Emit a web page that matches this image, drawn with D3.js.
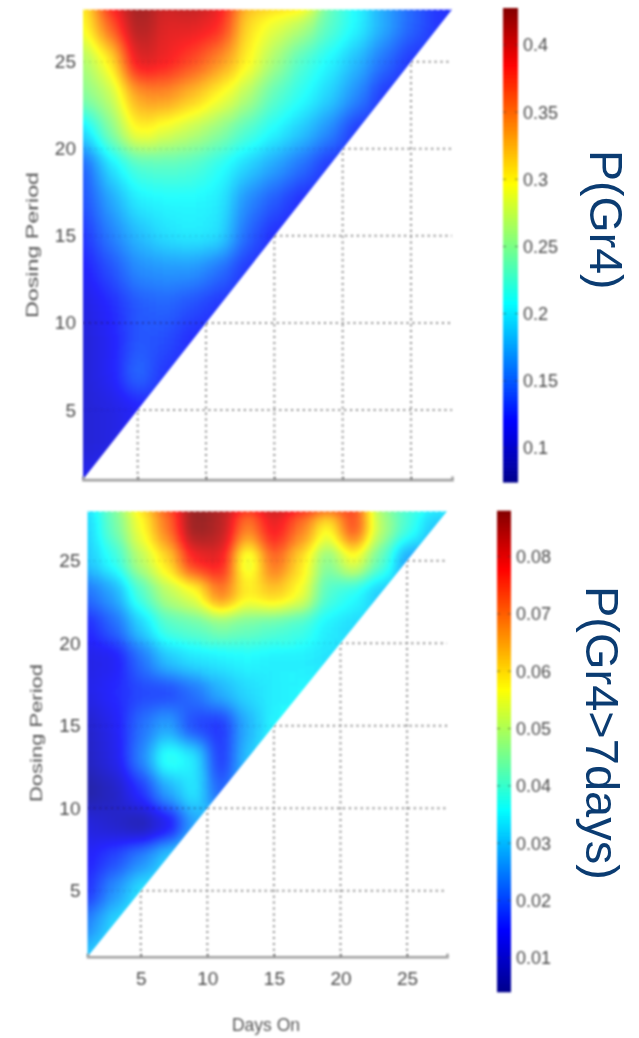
<!DOCTYPE html>
<html><head><meta charset="utf-8">
<script src="https://cdn.jsdelivr.net/npm/d3@7"></script>
<style>html,body{margin:0;padding:0;background:#fff}svg{display:block}text{font-family:"Liberation Sans",Arial,sans-serif}</style>
</head><body><svg id="c" width="639" height="1038"></svg>
<script>
const gridDays = [1,3,5,7,9,11,13,15,17,19,21,23,25,27,29];
const gridPeriods = [29,27,25,23,21,19,17,15,13,11,9,7,5,3,1];
const dayTicks = [5,10,15,20,25];
const periodTicks = [5,10,15,20,25];
const gr4Values = [
 [.30,.40,.44,.41,.42,.40,.33,.33,.335,.24,.205,.17,.145,.125,.12],
 [.29,.36,.42,.395,.395,.385,.31,.285,.265,.23,.205,.175,.145,.125],
 [.26,.30,.40,.39,.37,.34,.30,.26,.225,.205,.18,.15,.125],
 [.245,.27,.335,.34,.32,.295,.265,.23,.21,.19,.16,.125,.12],
 [.19,.245,.30,.285,.27,.25,.225,.205,.185,.16,.125,.12],
 [.14,.195,.225,.23,.225,.21,.19,.17,.15,.125,.12],
 [.135,.17,.20,.205,.205,.20,.16,.14,.12,.12],
 [.125,.155,.18,.195,.20,.195,.145,.12,.12],
 [.115,.135,.16,.165,.165,.15,.125,.12],
 [.105,.12,.14,.145,.135,.125,.12],
 [.10,.115,.14,.135,.12,.12],
 [.10,.115,.15,.125,.12],
 [.10,.105,.115,.12],
 [.10,.105,.12,.12],
 [.11,.12,.12]
];
const gr4Long = [
 [.033,.045,.06,.074,.088,.085,.08,.085,.082,.08,.075,.045,.04,.037,.037],
 [.031,.043,.056,.07,.088,.085,.068,.08,.07,.056,.075,.05,.039,.03],
 [.03,.037,.05,.06,.078,.08,.052,.072,.06,.045,.056,.042,.026],
 [.022,.027,.04,.05,.055,.07,.058,.062,.056,.04,.036,.03,.03],
 [.015,.021,.031,.04,.042,.045,.043,.041,.039,.034,.032,.032],
 [.012,.013,.022,.03,.033,.034,.035,.034,.034,.033,.033],
 [.012,.015,.018,.018,.022,.028,.032,.034,.035,.035],
 [.009,.013,.022,.027,.018,.016,.028,.035,.035],
 [.008,.012,.024,.038,.034,.016,.03,.036],
 [.005,.008,.016,.027,.034,.02,.03],
 [.011,.009,.006,.012,.027,.03],
 [.014,.018,.024,.031,.034],
 [.016,.025,.033,.035],
 [.024,.032,.036],
 [.03,.035]
];
const gr4BarTicks = [0.1,0.15,0.2,0.25,0.3,0.35,0.4];
const gr4LongBarTicks = [0.01,0.02,0.03,0.04,0.05,0.06,0.07,0.08];
const jetStops = [[0,0,0,143],[.125,0,0,255],[.375,0,255,255],[.625,255,255,0],[.875,255,0,0],[1,128,0,0]];

function jet(t){
  t=Math.max(0,Math.min(1,t));
  for(let i=1;i<jetStops.length;i++){
    const a=jetStops[i-1],b=jetStops[i];
    if(t<=b[0]){const f=(t-a[0])/(b[0]-a[0]);return [1,2,3].map(k=>a[k]+(b[k]-a[k])*f);}
  }
  return jetStops[5].slice(1);
}
const svg=d3.select('#c');
const defs=svg.append('defs');
const table=d3.range(256).map(i=>jet(i/255));
const tv=k=>table.map(c=>((38+c[k]*0.85)/255).toFixed(4)).join(' ');
function surfFilter(id,sx,sy){
  const f=defs.append('filter').attr('id',id).attr('filterUnits','userSpaceOnUse')
    .attr('x',-100).attr('y',-100).attr('width',900).attr('height',1300).attr('color-interpolation-filters','sRGB');
  f.append('feGaussianBlur').attr('stdDeviation',sx+' '+sy);
  const t=f.append('feComponentTransfer');
  t.append('feFuncR').attr('type','table').attr('tableValues',tv(0));
  t.append('feFuncG').attr('type','table').attr('tableValues',tv(1));
  t.append('feFuncB').attr('type','table').attr('tableValues',tv(2));
  t.append('feFuncA').attr('type','linear').attr('slope',20);
}
surfFilter('surfA',10,12);
surfFilter('surfB',9,10);
function softFilter(id,s){
  defs.append('filter').attr('id',id).attr('filterUnits','userSpaceOnUse')
  .attr('x',-800).attr('y',-800).attr('width',2400).attr('height',2800).attr('color-interpolation-filters','sRGB')
  .append('feGaussianBlur').attr('stdDeviation',s);
}
softFilter('soft',0.8);
softFilter('soft2',0.45);

function panel(o){
  const x=d3.scaleLinear().domain([1,28]).range(o.xr);
  const y=d3.scaleLinear().domain([1,28]).range(o.yr);
  const c=d3.scaleLinear().domain(o.vd).range(o.bar);
  const tScale=d3.scaleLinear().domain(o.vd).range([0,1]);
  const gray=v=>{const g=Math.round(255*Math.max(0,Math.min(1,tScale(v))));return `rgb(${g},${g},${g})`;};
  const g=svg.append('g');
  // dotted grid
  const grid=g.append('g').attr('filter','url(#soft)').attr('fill','none').attr('stroke','#8a8a8a').attr('stroke-width',2).attr('stroke-dasharray','2 3.9');
  grid.selectAll('.v').data(dayTicks).join('line').attr('class','v').attr('x1',d=>x(d)).attr('x2',d=>x(d)).attr('y1',y(1)).attr('y2',d=>y(d));
  grid.selectAll('.h').data(periodTicks).join('line').attr('class','h').attr('x1',d=>x(d)).attr('x2',x(28)).attr('y1',d=>y(d)).attr('y2',d=>y(d));
  // surface
  const id='clip'+o.id;
  defs.append('clipPath').attr('id',id).append('path')
    .attr('d',d3.line()([[x(1),y(1)],[x(28),y(28)],[x(1),y(28)]])+'Z');
  const surf=g.append('g').attr('filter','url(#soft)').append('g').attr('clip-path',`url(#${id})`).append('g').attr('filter',`url(#${o.blur})`);
  const cells=[];
  o.values.forEach((row,ri)=>gridDays.forEach((d,ci)=>{
    cells.push({d,p:gridPeriods[ri],v:ci<row.length?row[ci]:row[row.length-1]});
  }));
  surf.selectAll('rect').data(cells).join('rect')
    .attr('x',c=>x(c.d-1)).attr('y',c=>y(c.p+1))
    .attr('width',c=>x(c.d+1)-x(c.d-1)+.5).attr('height',c=>y(c.p-1)-y(c.p+1)+.5)
    .attr('fill',c=>gray(c.v));
  // grid dots faintly over the surface
  const over=g.append('g').attr('filter','url(#soft)').attr('clip-path',`url(#${id})`).attr('stroke','#201040').attr('stroke-width',1.6).attr('stroke-dasharray','2 3.9');
  over.selectAll('line').data(periodTicks).join('line').attr('x1',x(1)).attr('x2',d=>x(d)).attr('y1',d=>y(d)).attr('y2',d=>y(d)).attr('opacity',d=>d===10?.45:.1);
  g.append('line').attr('filter','url(#soft)').attr('x1',x(1)).attr('x2',x(28)).attr('y1',y(28)).attr('y2',y(28)).attr('stroke','#fff').attr('stroke-width',1.5).attr('stroke-dasharray','2 3.9').attr('opacity',.6);
  // axes
  const ay=g.append('g').attr('transform',`translate(${x(1)},0)`).attr('filter','url(#soft)').call(d3.axisLeft(y).tickValues(periodTicks).tickSize(0).tickPadding(o.pad));
  ay.select('.domain').remove();
  ay.selectAll('text').attr('font-size',19).attr('font-family','"Liberation Sans"').attr('fill','#4a4a4a');
  const ax=g.append('g').attr('transform',`translate(0,${y(1)})`).attr('filter','url(#soft)')
    .call(d3.axisBottom(x).tickValues(dayTicks).tickSize(-3).tickPadding(15).tickFormat(o.xlabels?d3.format('d'):''));
  ax.select('.domain').attr('stroke','#a0a0a0').attr('stroke-width',2.6);
  ax.selectAll('line').attr('stroke','#555');
  ax.selectAll('text').attr('font-size',19).attr('font-family','"Liberation Sans"').attr('fill','#4a4a4a');
  // labels
  const lab=g.append('g').attr('filter','url(#soft)').attr('fill','#555');
  lab.append('text').text('Dosing Period').attr('transform',`translate(${o.ylx},${o.yly}) rotate(-90)`)
    .attr('text-anchor','middle').attr('font-size',17).attr('textLength',o.yll).attr('lengthAdjust','spacingAndGlyphs');
  if(o.xlabels) lab.append('text').text('Days On').attr('x',266).attr('y',1031).attr('text-anchor','middle').attr('font-size',17.5);
  // colourbar
  const cb=g.append('g').attr('filter','url(#soft)');
  const [top,bot]=[o.bar[1],o.bar[0]];
  const steps=d3.range(o.vd[0],o.vd[1],(o.vd[1]-o.vd[0])/120);
  cb.selectAll('rect').data(steps).join('rect').attr('x',o.barx).attr('width',o.barw)
    .attr('y',v=>c(v+(o.vd[1]-o.vd[0])/120)).attr('height',Math.abs(bot-top)/120+.6)
    .attr('fill',v=>{const r=jet(tScale(v));return `rgb(${r.map(Math.round)})`;});
  cb.selectAll('.tl').data(o.ticks).join('line').attr('class','tl').attr('stroke','#333').attr('stroke-width',1).attr('opacity',.55)
    .attr('stroke-dasharray',`3 ${o.barw-6} 3`).attr('x1',o.barx).attr('x2',o.barx+o.barw).attr('y1',c).attr('y2',c);
  cb.selectAll('text').data(o.ticks).join('text').text(d=>d).attr('x',o.barx+o.barw+5).attr('y',c).attr('dy','.36em')
    .attr('font-size',18).attr('fill','#4a4a4a').attr('font-family','"Liberation Sans"');
  // title
  g.append('text').text(o.title).attr('transform',`translate(${o.tx},${o.ty}) rotate(90)`).attr('filter','url(#soft2)')
    .attr('font-size',o.tf).attr('fill','#0b3c72').attr('font-family','"Liberation Sans"');
}
panel({id:'a',values:gr4Values,blur:'surfA',xr:[83,452],yr:[479.6,9.5],vd:[0.0747,0.4275],bar:[482,8],barx:503,barw:15,
  ticks:gr4BarTicks,pad:7,xlabels:false,ylx:38,yly:245,yll:146,title:'P(Gr4)',tx:590,ty:150,tf:46.5});
panel({id:'b',values:gr4Long,blur:'surfB',xr:[87.5,447],yr:[956.7,511.2],vd:[0.0041,0.088],bar:[991.7,510.7],barx:497,barw:14,
  ticks:gr4LongBarTicks,pad:7,xlabels:true,ylx:42,yly:733,yll:138,title:'P(Gr4>7days)',tx:586,ty:586,tf:47});
</script></body></html>
